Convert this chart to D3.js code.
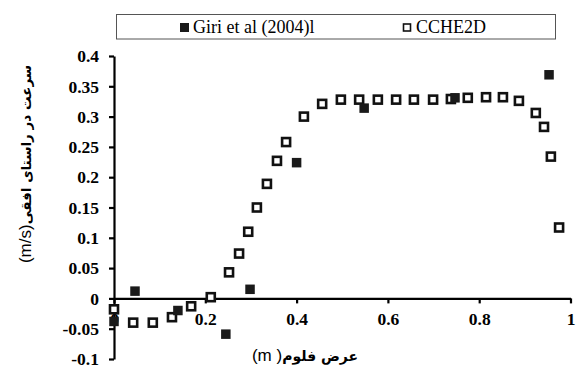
<!DOCTYPE html>
<html>
<head>
<meta charset="utf-8">
<script src="https://cdn.jsdelivr.net/npm/d3@7"></script>
<style>
  body { margin: 0; background: #fff; }
  svg { display: block; }
</style>
</head>
<body>
<div id="chart"></div>
<script>
var giriX = [0.0, 0.046, 0.140, 0.245, 0.298, 0.400, 0.548, 0.747, 0.953];
var giriY = [-0.038, 0.012, -0.020, -0.059, 0.015, 0.224, 0.314, 0.331, 0.369];

var ccheX = [0.0, 0.042, 0.085, 0.127, 0.169, 0.212, 0.252, 0.274, 0.294, 0.313,
             0.335, 0.357, 0.377, 0.416, 0.456, 0.497, 0.537, 0.578, 0.618, 0.657,
             0.699, 0.738, 0.775, 0.815, 0.852, 0.887, 0.924, 0.942, 0.957, 0.975];
var ccheY = [-0.018, -0.040, -0.040, -0.031, -0.013, 0.002, 0.043, 0.074, 0.110, 0.150,
             0.189, 0.227, 0.258, 0.300, 0.321, 0.328, 0.328, 0.328, 0.328, 0.328,
             0.328, 0.329, 0.331, 0.332, 0.332, 0.326, 0.306, 0.283, 0.234, 0.117];

var xTicks = [0, 0.2, 0.4, 0.6, 0.8, 1];
var xTickLabels = ["0", "0.2", "0.4", "0.6", "0.8", "1"];
var yTicks = [-0.1, -0.05, 0, 0.05, 0.1, 0.15, 0.2, 0.25, 0.3, 0.35, 0.4];
var yTickLabels = ["-0.1", "-0.05", "0", "0.05", "0.1", "0.15", "0.2", "0.25", "0.3", "0.35", "0.4"];

var seriesNames = ["Giri et al (2004)l", "CCHE2D"];

var width = 577, height = 367;

var svg = d3.select("#chart").append("svg")
  .attr("width", width)
  .attr("height", height);

var x = d3.scaleLinear().domain([0, 1]).range([114, 570.5]);
var y = d3.scaleLinear().domain([-0.1, 0.4]).range([359, 56]);

var tickFont = "'Liberation Serif', 'Times New Roman', serif";

// y axis
var yAxis = svg.append("g")
  .attr("transform", "translate(" + x(0) + ",0)")
  .call(d3.axisLeft(y).tickValues(yTicks).tickSize(5).tickPadding(10)
    .tickSizeOuter(0)
    .tickFormat(function(d, i) { return yTickLabels[i]; }));

// x axis sits on y = 0
var xAxis = svg.append("g")
  .attr("transform", "translate(0," + y(0) + ")")
  .call(d3.axisBottom(x).tickValues(xTicks).tickSize(5).tickPadding(9)
    .tickSizeOuter(0)
    .tickFormat(function(d, i) { return xTickLabels[i]; }));

[yAxis, xAxis].forEach(function(a) {
  a.select(".domain").attr("stroke", "#000").attr("stroke-width", 2.2);
  a.selectAll(".tick line").attr("stroke", "#000").attr("stroke-width", 2.2);
  a.selectAll(".tick text")
    .attr("fill", "#000")
    .style("font-family", tickFont)
    .style("font-weight", "bold")
    .style("font-size", "17.5px");
});
yAxis.selectAll(".tick text").attr("dy", "0.33em");

// CCHE2D open squares
var openSize = 8;
svg.append("g").selectAll("rect")
  .data(ccheX.map(function(v, i) { return [v, ccheY[i]]; }))
  .enter().append("rect")
  .attr("x", function(d) { return x(d[0]) - openSize / 2; })
  .attr("y", function(d) { return y(d[1]) - openSize / 2; })
  .attr("width", openSize)
  .attr("height", openSize)
  .attr("fill", "#fff")
  .attr("stroke", "#111")
  .attr("stroke-width", 2.6);

// Giri filled squares
var fillSize = 9.5;
svg.append("g").selectAll("rect")
  .data(giriX.map(function(v, i) { return [v, giriY[i]]; }))
  .enter().append("rect")
  .attr("x", function(d) { return x(d[0]) - fillSize / 2; })
  .attr("y", function(d) { return y(d[1]) - fillSize / 2; })
  .attr("width", fillSize)
  .attr("height", fillSize)
  .attr("fill", "#1a1a1a");

// legend
var legend = svg.append("g");
legend.append("rect")
  .attr("x", 116.5).attr("y", 14.5)
  .attr("width", 439).attr("height", 24.5)
  .attr("fill", "#fff")
  .attr("stroke", "#555")
  .attr("stroke-width", 1);

legend.append("rect")
  .attr("x", 180).attr("y", 23).attr("width", 9).attr("height", 9)
  .attr("fill", "#1a1a1a");
legend.append("text")
  .attr("x", 193).attr("y", 33)
  .style("font-family", tickFont)
  .style("font-size", "18px")
  .text(seriesNames[0]);

legend.append("rect")
  .attr("x", 403.5).attr("y", 24).attr("width", 7).attr("height", 7)
  .attr("fill", "#fff").attr("stroke", "#111").attr("stroke-width", 1.6);
legend.append("text")
  .attr("x", 416).attr("y", 33)
  .style("font-family", tickFont)
  .style("font-size", "18px")
  .text(seriesNames[1]);

// axis titles (Persian, right-to-left)
var xTitle = svg.append("text")
  .attr("x", 305).attr("y", 361)
  .attr("direction", "rtl")
  .attr("text-anchor", "middle")
  .style("font-family", "'Liberation Sans', Arial, sans-serif")
  .style("font-size", "17px");
xTitle.append("tspan")
  .style("font-family", "'DejaVu Sans', sans-serif")
  .style("font-weight", "bold")
  .style("font-size", "14px")
  .text("عرض فلوم");
xTitle.append("tspan").text("( m)");

var yTitle = svg.append("text")
  .attr("transform", "translate(31,164) rotate(-90)")
  .attr("direction", "rtl")
  .attr("text-anchor", "middle")
  .style("font-family", "'Liberation Sans', Arial, sans-serif")
  .style("font-size", "17px");
yTitle.append("tspan")
  .style("font-family", "'DejaVu Sans', sans-serif")
  .style("font-weight", "bold")
  .style("font-size", "13.5px")
  .text("سرعت در راستای افقی");
yTitle.append("tspan").text("(m/s)");
</script>
</body>
</html>
